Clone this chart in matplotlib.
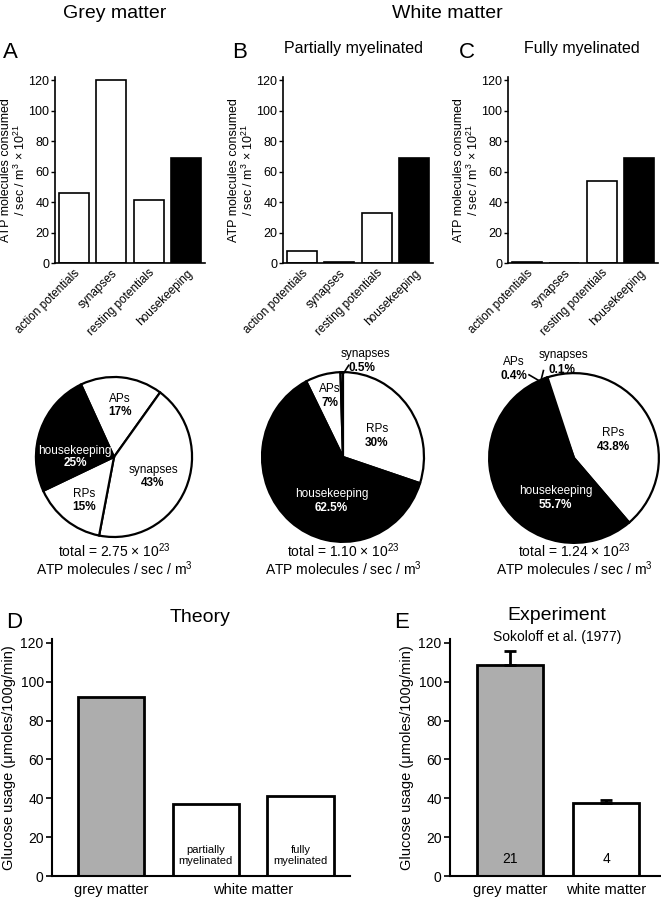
import matplotlib
matplotlib.use('Agg')
import matplotlib.pyplot as plt
from matplotlib.transforms import blended_transform_factory

plt.rcParams['font.family'] = ['Liberation Sans', 'DejaVu Sans']
plt.rcParams['mathtext.fontset'] = 'custom'
plt.rcParams['mathtext.rm'] = 'Liberation Sans'
plt.rcParams['mathtext.it'] = 'Liberation Sans:italic'
plt.rcParams['mathtext.bf'] = 'Liberation Sans:bold'

# ATP budget bars (A, B, C)
categories = ['action potentials', 'synapses', 'resting potentials', 'housekeeping']
grey_atp = [46, 120, 41, 69]
partial_atp = [8, 0.5, 33, 69]
full_atp = [0.4, 0.1, 54, 69]
bar_colors = ['white', 'white', 'white', 'black']

# pie percentages
pie_names = ['APs', 'synapses', 'RPs', 'housekeeping']
grey_pct = [17, 43, 15, 25]
partial_pct = [7, 0.5, 30, 62.5]
full_pct = [0.4, 0.1, 43.8, 55.7]
pie_colors = ['white', 'white', 'white', 'black']
totals = ['2.75', '1.10', '1.24']

# glucose usage (D, E)
theory_values = [92, 37, 41]
theory_inner = ['', 'partially\nmyelinated', 'fully\nmyelinated']
theory_colors = ['#adadad', 'white', 'white']
exp_labels = ['grey matter', 'white matter']
exp_values = [108.5, 37.5]
exp_err = [7.5, 1.8]
exp_n = ['21', '4']
exp_colors = ['#adadad', 'white']

W, H = 661, 900
fig = plt.figure(figsize=(W / 100, H / 100), dpi=100)


def px_axes(x0, y0, x1, y1):
    return fig.add_axes([x0 / W, 1 - y1 / H, (x1 - x0) / W, (y1 - y0) / H])


def style(ax, lw):
    for s in ['top', 'right']:
        ax.spines[s].set_visible(False)
    for s in ['left', 'bottom']:
        ax.spines[s].set_linewidth(lw)


# --- top bar panels
for x0, vals in zip([55, 283, 508], [grey_atp, partial_atp, full_atp]):
    ax = px_axes(x0, 77, x0 + 150, 263)
    ax.bar(range(4), vals, width=0.8, color=bar_colors, edgecolor='black', linewidth=1.2)
    ax.set_xlim(-0.5, 3.5)
    ax.set_ylim(0, 122)
    ax.set_yticks(range(0, 121, 20))
    ax.set_xticks(range(4))
    ax.set_xticklabels(categories, rotation=45, ha='right', rotation_mode='anchor', fontsize=8.5)
    ax.tick_params(axis='x', length=0, pad=3)
    ax.tick_params(axis='y', length=3, width=1, labelsize=9, pad=1)
    style(ax, 1.2)
    ax.set_ylabel('ATP molecules consumed\n/ sec / m$^3$ × 10$^{21}$', fontsize=9, linespacing=1.05)
    ax.yaxis.set_label_coords(-0.178, 0.5)

fig.text(115 / W, 1 - 13 / H, 'Grey matter', ha='center', va='center', fontsize=14)
fig.text(447 / W, 1 - 13 / H, 'White matter', ha='center', va='center', fontsize=14)
for x, letter in zip([10, 240, 467], ['A', 'B', 'C']):
    fig.text(x / W, 1 - 52 / H, letter, ha='center', va='center', fontsize=16)
fig.text(353 / W, 1 - 49 / H, 'Partially myelinated', ha='center', va='center', fontsize=11.5)
fig.text(582 / W, 1 - 49 / H, 'Fully myelinated', ha='center', va='center', fontsize=11.5)

# --- pies
pie_specs = [
    # center x, center y, rx, ry, values, start angle
    (114, 457, 78, 80, grey_pct, 115),
    (343, 457, 81, 85, partial_pct, 117),
    (574, 458, 85, 85, full_pct, 110),
]
pie_text = [
    [(0.08, 0.72, 0.56, 'APs', 'black'), (0.5, -0.16, -0.32, 'synapses', 'black'),
     (-0.38, -0.46, -0.62, 'RPs', 'black'), (-0.5, 0.08, -0.08, 'housekeeping', 'white')],
    [(-0.16, 0.8, 0.64, 'APs', 'black'), (0.42, 0.33, 0.17, 'RPs', 'black'),
     (-0.14, -0.44, -0.6, 'housekeeping', 'white')],
    [(0.46, 0.29, 0.13, 'RPs', 'black'), (-0.22, -0.39, -0.55, 'housekeeping', 'white')],
]
pie_pct_text = [[17, 43, 15, 25], [7, 30, 62.5], [43.8, 55.7]]

for i, (cx, cy, rx, ry, vals, start) in enumerate(pie_specs):
    ax = px_axes(cx - rx - 2, cy - ry - 2, cx + rx + 2, cy + ry + 2)
    ax.pie(vals, colors=pie_colors, startangle=start, counterclock=False,
           wedgeprops=dict(edgecolor='black', linewidth=1.6))
    ax.set_aspect('auto')
    ax.set_xlim(-1.025, 1.025)
    ax.set_ylim(-1.025, 1.025)
    ax.axis('off')
    for (tx, ty1, ty2, name, col), pct in zip(pie_text[i], pie_pct_text[i]):
        ax.text(tx, ty1, name, ha='center', va='center', fontsize=8.5, color=col, clip_on=False)
        ax.text(tx, ty2, f'{pct}%', ha='center', va='center', fontsize=8.5, color=col,
                fontweight='bold', clip_on=False)
    if i == 1:
        ax.text(0.28, 1.21, 'synapses', ha='center', va='center', fontsize=8.5, clip_on=False)
        ax.text(0.24, 1.05, f'{partial_pct[1]}%', ha='center', va='center', fontsize=8.5,
                fontweight='bold', clip_on=False)
        ax.plot([0.01, 0.07], [0.99, 1.08], color='black', lw=1.2, clip_on=False)
    if i == 2:
        ax.text(-0.71, 1.13, 'APs', ha='center', va='center', fontsize=8.5, clip_on=False)
        ax.text(-0.71, 0.97, f'{full_pct[0]}%', ha='center', va='center', fontsize=8.5,
                fontweight='bold', clip_on=False)
        ax.text(-0.12, 1.21, 'synapses', ha='center', va='center', fontsize=8.5, clip_on=False)
        ax.text(-0.14, 1.04, f'{full_pct[1]}%', ha='center', va='center', fontsize=8.5,
                fontweight='bold', clip_on=False)
        ax.plot([-0.53, -0.41], [0.98, 0.91], color='black', lw=1.2, clip_on=False)
        ax.plot([-0.36, -0.39], [1.03, 0.91], color='black', lw=1.2, clip_on=False)
    fig.text(cx / W, 1 - 551 / H, f'total = {totals[i]} × 10$^{{23}}$', ha='center', va='center', fontsize=10)
    fig.text(cx / W, 1 - 569 / H, 'ATP molecules / sec / m$^3$', ha='center', va='center', fontsize=10)

# --- D: theory
axd = px_axes(52, 639, 350, 876)
axd.bar(range(3), theory_values, width=0.7, color=theory_colors, edgecolor='black', linewidth=2)
axd.set_xlim(-0.62, 2.52)
axd.set_ylim(0, 122)
axd.set_yticks(range(0, 121, 20))
axd.set_xticks([])
axd.tick_params(axis='y', length=4, width=1.2, labelsize=10, pad=2)
style(axd, 1.5)
axd.set_ylabel('Glucose usage (μmoles/100g/min)', fontsize=10.5)
axd.yaxis.set_label_coords(-0.12, 0.5)
for i, t in enumerate(theory_inner):
    axd.text(i, 10.5, t, ha='center', va='center', fontsize=8, linespacing=1.1)
tr = blended_transform_factory(axd.transData, axd.transAxes)
axd.text(0, -0.06, 'grey matter', transform=tr, ha='center', va='center', fontsize=10.5)
axd.text(1.5, -0.06, 'white matter', transform=tr, ha='center', va='center', fontsize=10.5)
fig.text(14 / W, 1 - 623 / H, 'D', ha='center', va='center', fontsize=16)
fig.text(200 / W, 1 - 617 / H, 'Theory', ha='center', va='center', fontsize=14)

# --- E: experiment
axe = px_axes(450, 639, 660, 876)
axe.bar(range(2), exp_values, width=0.69, color=exp_colors, edgecolor='black', linewidth=2)
axe.errorbar(range(2), exp_values, yerr=[[0, 0], exp_err], fmt='none', ecolor='black',
             elinewidth=2, capsize=4, capthick=2)
axe.set_xlim(-0.625, 1.56)
axe.set_ylim(0, 122)
axe.set_yticks(range(0, 121, 20))
axe.set_xticks([])
axe.tick_params(axis='y', length=4, width=1.2, labelsize=10, pad=2)
style(axe, 1.5)
axe.set_ylabel('Glucose usage (μmoles/100g/min)', fontsize=10.5)
axe.yaxis.set_label_coords(-0.17, 0.5)
for i, n in enumerate(exp_n):
    axe.text(i, 9, n, ha='center', va='center', fontsize=10)
tr = blended_transform_factory(axe.transData, axe.transAxes)
for i, lab in enumerate(exp_labels):
    axe.text(i, -0.06, lab, transform=tr, ha='center', va='center', fontsize=10.5)
fig.text(402 / W, 1 - 623 / H, 'E', ha='center', va='center', fontsize=16)
fig.text(557 / W, 1 - 615 / H, 'Experiment', ha='center', va='center', fontsize=14)
fig.text(557 / W, 1 - 637 / H, 'Sokoloff et al. (1977)', ha='center', va='center', fontsize=10)

fig.savefig('out.png', dpi=100)
